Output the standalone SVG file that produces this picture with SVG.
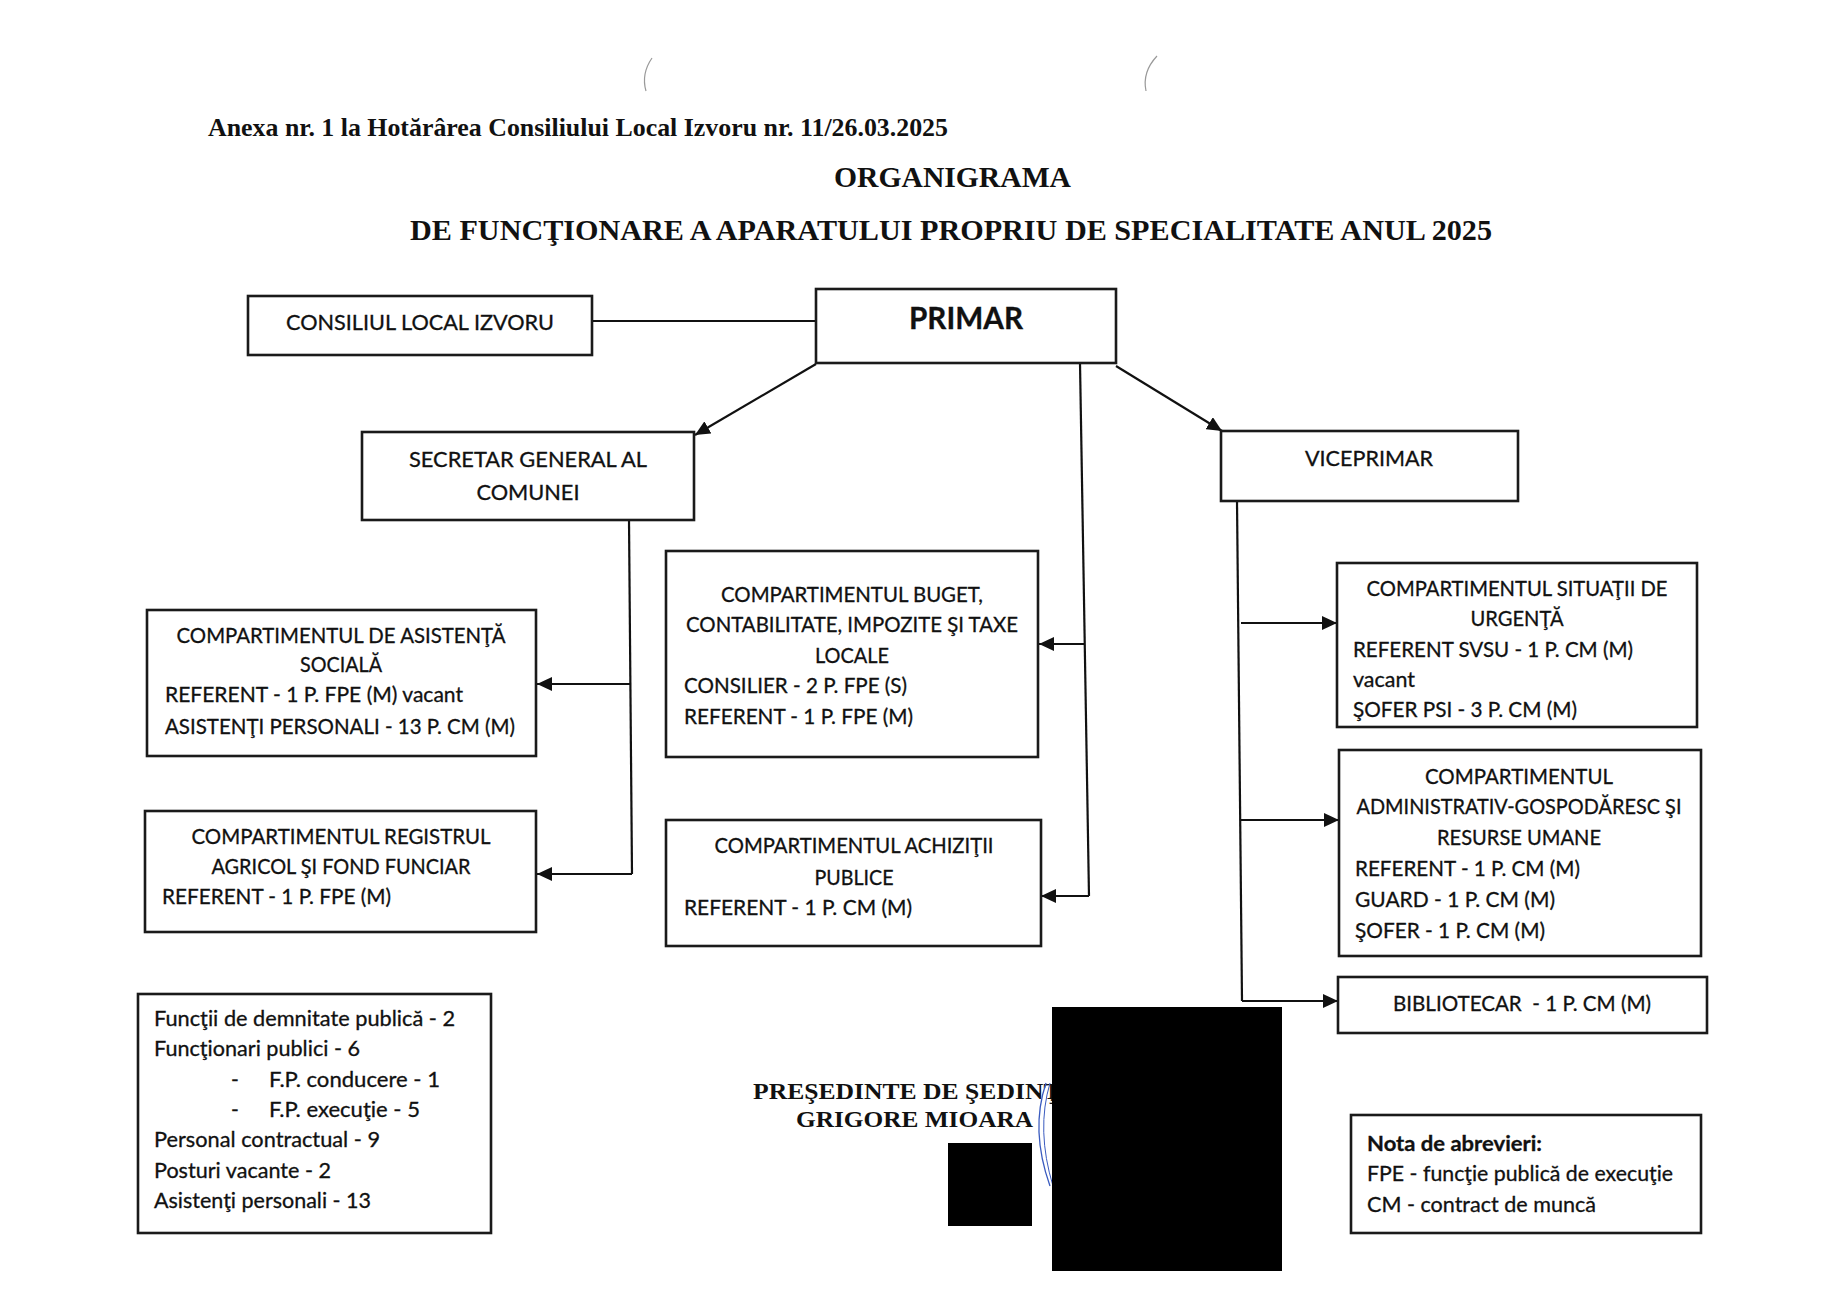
<svg xmlns="http://www.w3.org/2000/svg" width="1832" height="1302" viewBox="0 0 1832 1302">
<defs>
<marker id="arr" markerUnits="userSpaceOnUse" markerWidth="16" markerHeight="14" refX="15" refY="7" orient="auto">
<path d="M0,0 L15,7 L0,14 Z" fill="#111"/>
</marker>
<style>
.box{fill:#fff;stroke:#1a1a1a;stroke-width:2.6}
.t{font-family:Lato,"Liberation Sans",sans-serif;font-size:21px;fill:#111;stroke:#111;stroke-width:0.3}
.c{text-anchor:middle}
.b{font-weight:bold}
.big{font-size:31px}
.h{font-family:"Liberation Serif",serif;font-weight:bold;fill:#111}
.h26{font-size:26px}
.h29{font-size:29px}
.h24{font-size:24px}
.ln{fill:none;stroke:#111;stroke-width:2.2}
.ar{fill:none;stroke:#111;stroke-width:2.2;marker-end:url(#arr)}
</style>
</defs>
<rect width="1832" height="1302" fill="#fff"/>

<path d="M652,58 Q641,74 646,91" fill="none" stroke="#999" stroke-width="1.2"/>
<path d="M1157,56 Q1142,72 1146,91" fill="none" stroke="#999" stroke-width="1.2"/>

<g id="header">
<text class="h h26" x="208" y="136" textLength="740" lengthAdjust="spacingAndGlyphs">Anexa nr. 1 la Hotărârea Consiliului Local Izvoru nr. 11/26.03.2025</text>
<text class="h h29" x="834" y="187" textLength="237" lengthAdjust="spacingAndGlyphs">ORGANIGRAMA</text>
<text class="h h29" x="410" y="240" textLength="1082" lengthAdjust="spacingAndGlyphs">DE FUNCŢIONARE A APARATULUI PROPRIU DE SPECIALITATE ANUL 2025</text>
</g>

<g id="connectors">
<line class="ln" x1="592" y1="321" x2="816" y2="321"/>
<line class="ar" x1="816" y1="364" x2="695" y2="435"/>
<line class="ar" x1="1116" y1="366" x2="1222" y2="431"/>
<polyline class="ln" points="1080,363 1089,896"/>
<line class="ar" x1="1085" y1="644" x2="1039" y2="644"/>
<line class="ar" x1="1089" y1="896" x2="1041" y2="896"/>
<polyline class="ln" points="629,520 632,874"/>
<line class="ar" x1="630" y1="684" x2="537" y2="684"/>
<line class="ar" x1="632" y1="874" x2="537" y2="874"/>
<polyline class="ln" points="1237,501 1242,1001"/>
<line class="ar" x1="1241" y1="623" x2="1337" y2="623"/>
<line class="ar" x1="1241" y1="820" x2="1339" y2="820"/>
<line class="ar" x1="1242" y1="1001" x2="1338" y2="1001"/>
</g>

<g id="consiliul">
<rect class="box" x="248" y="296" width="344" height="59"/>
<text class="t c" x="420" y="330" textLength="268" lengthAdjust="spacingAndGlyphs">CONSILIUL LOCAL IZVORU</text>
</g>

<g id="primar">
<rect class="box" x="816" y="289" width="300" height="74"/>
<text class="t c b big" x="966" y="329" textLength="114" lengthAdjust="spacingAndGlyphs">PRIMAR</text>
</g>

<g id="secretar">
<rect class="box" x="362" y="432" width="332" height="88"/>
<text class="t c" x="528" y="467" textLength="238" lengthAdjust="spacingAndGlyphs">SECRETAR GENERAL AL</text>
<text class="t c" x="528" y="500" textLength="103" lengthAdjust="spacingAndGlyphs">COMUNEI</text>
</g>

<g id="viceprimar">
<rect class="box" x="1221" y="431" width="297" height="70"/>
<text class="t c" x="1369" y="466" textLength="128" lengthAdjust="spacingAndGlyphs">VICEPRIMAR</text>
</g>

<g id="asistenta">
<rect class="box" x="147" y="610" width="389" height="146"/>
<text class="t c" x="341" y="643" textLength="329" lengthAdjust="spacingAndGlyphs">COMPARTIMENTUL DE ASISTENŢĂ</text>
<text class="t c" x="341" y="672" textLength="82" lengthAdjust="spacingAndGlyphs">SOCIALĂ</text>
<text class="t" x="165" y="702" textLength="298" lengthAdjust="spacingAndGlyphs">REFERENT - 1 P. FPE (M) vacant</text>
<text class="t" x="165" y="734" textLength="350" lengthAdjust="spacingAndGlyphs">ASISTENŢI PERSONALI - 13 P. CM (M)</text>
</g>

<g id="buget">
<rect class="box" x="666" y="551" width="372" height="206"/>
<text class="t c" x="852" y="602" textLength="262" lengthAdjust="spacingAndGlyphs">COMPARTIMENTUL BUGET,</text>
<text class="t c" x="852" y="632" textLength="332" lengthAdjust="spacingAndGlyphs">CONTABILITATE, IMPOZITE ŞI TAXE</text>
<text class="t c" x="852" y="663" textLength="74" lengthAdjust="spacingAndGlyphs">LOCALE</text>
<text class="t" x="684" y="693" textLength="223" lengthAdjust="spacingAndGlyphs">CONSILIER - 2 P. FPE (S)</text>
<text class="t" x="684" y="724" textLength="229" lengthAdjust="spacingAndGlyphs">REFERENT - 1 P. FPE (M)</text>
</g>

<g id="registrul">
<rect class="box" x="145" y="811" width="391" height="121"/>
<text class="t c" x="341" y="844" textLength="299" lengthAdjust="spacingAndGlyphs">COMPARTIMENTUL REGISTRUL</text>
<text class="t c" x="341" y="874" textLength="259" lengthAdjust="spacingAndGlyphs">AGRICOL ŞI FOND FUNCIAR</text>
<text class="t" x="162" y="904" textLength="229" lengthAdjust="spacingAndGlyphs">REFERENT - 1 P. FPE (M)</text>
</g>

<g id="achizitii">
<rect class="box" x="666" y="820" width="375" height="126"/>
<text class="t c" x="854" y="853" textLength="279" lengthAdjust="spacingAndGlyphs">COMPARTIMENTUL ACHIZIŢII</text>
<text class="t c" x="854" y="885" textLength="79" lengthAdjust="spacingAndGlyphs">PUBLICE</text>
<text class="t" x="684" y="915" textLength="228" lengthAdjust="spacingAndGlyphs">REFERENT - 1 P. CM (M)</text>
</g>

<g id="situatii">
<rect class="box" x="1337" y="563" width="360" height="164"/>
<text class="t c" x="1517" y="596" textLength="301" lengthAdjust="spacingAndGlyphs">COMPARTIMENTUL SITUAŢII DE</text>
<text class="t c" x="1517" y="626" textLength="93" lengthAdjust="spacingAndGlyphs">URGENŢĂ</text>
<text class="t" x="1353" y="657" textLength="280" lengthAdjust="spacingAndGlyphs">REFERENT SVSU - 1 P. CM (M)</text>
<text class="t" x="1353" y="687" textLength="62" lengthAdjust="spacingAndGlyphs">vacant</text>
<text class="t" x="1353" y="717" textLength="224" lengthAdjust="spacingAndGlyphs">ŞOFER PSI - 3 P. CM (M)</text>
</g>

<g id="administrativ">
<rect class="box" x="1339" y="750" width="362" height="206"/>
<text class="t c" x="1519" y="784" textLength="188" lengthAdjust="spacingAndGlyphs">COMPARTIMENTUL</text>
<text class="t c" x="1519" y="814" textLength="325" lengthAdjust="spacingAndGlyphs">ADMINISTRATIV-GOSPODĂRESC ŞI</text>
<text class="t c" x="1519" y="845" textLength="164" lengthAdjust="spacingAndGlyphs">RESURSE UMANE</text>
<text class="t" x="1355" y="876" textLength="225" lengthAdjust="spacingAndGlyphs">REFERENT - 1 P. CM (M)</text>
<text class="t" x="1355" y="907" textLength="200" lengthAdjust="spacingAndGlyphs">GUARD - 1 P. CM (M)</text>
<text class="t" x="1355" y="938" textLength="190" lengthAdjust="spacingAndGlyphs">ŞOFER - 1 P. CM (M)</text>
</g>

<g id="bibliotecar">
<rect class="box" x="1338" y="977" width="369" height="56"/>
<text class="t c" x="1522" y="1011" textLength="258" lengthAdjust="spacingAndGlyphs" xml:space="preserve">BIBLIOTECAR  - 1 P. CM (M)</text>
</g>

<g id="sumar">
<rect class="box" x="138" y="994" width="353" height="239"/>
<text class="t" x="154" y="1026" textLength="301" lengthAdjust="spacingAndGlyphs">Funcţii de demnitate publică - 2</text>
<text class="t" x="154" y="1056" textLength="206" lengthAdjust="spacingAndGlyphs">Funcţionari publici - 6</text>
<text class="t" x="231" y="1087">-</text>
<text class="t" x="269" y="1087" textLength="171" lengthAdjust="spacingAndGlyphs">F.P. conducere - 1</text>
<text class="t" x="231" y="1117">-</text>
<text class="t" x="269" y="1117" textLength="151" lengthAdjust="spacingAndGlyphs">F.P. execuţie - 5</text>
<text class="t" x="154" y="1147" textLength="226" lengthAdjust="spacingAndGlyphs">Personal contractual - 9</text>
<text class="t" x="154" y="1178" textLength="177" lengthAdjust="spacingAndGlyphs">Posturi vacante - 2</text>
<text class="t" x="154" y="1208" textLength="217" lengthAdjust="spacingAndGlyphs">Asistenţi personali - 13</text>
</g>

<g id="nota">
<rect class="box" x="1351" y="1115" width="350" height="118"/>
<text class="t b" x="1367" y="1151" textLength="175" lengthAdjust="spacingAndGlyphs">Nota de abrevieri:</text>
<text class="t" x="1367" y="1181" textLength="306" lengthAdjust="spacingAndGlyphs">FPE - funcţie publică de execuţie</text>
<text class="t" x="1367" y="1212" textLength="229" lengthAdjust="spacingAndGlyphs">CM - contract de muncă</text>
</g>

<g id="semnatura">
<text class="h h24" x="753" y="1099" textLength="326" lengthAdjust="spacingAndGlyphs">PREŞEDINTE DE ŞEDINŢĂ</text>
<text class="h h24" x="796" y="1127" textLength="237" lengthAdjust="spacingAndGlyphs">GRIGORE MIOARA</text>
<path d="M1046,1083 Q1030,1130 1050,1186" fill="none" stroke="#3a5bbf" stroke-width="1.3"/>
<path d="M1050,1083 Q1036,1130 1053,1186" fill="none" stroke="#3a5bbf" stroke-width="1"/>
<rect x="948" y="1143" width="84" height="83" fill="#000"/>
<rect x="1052" y="1007" width="230" height="264" fill="#000"/>
</g>
</svg>
